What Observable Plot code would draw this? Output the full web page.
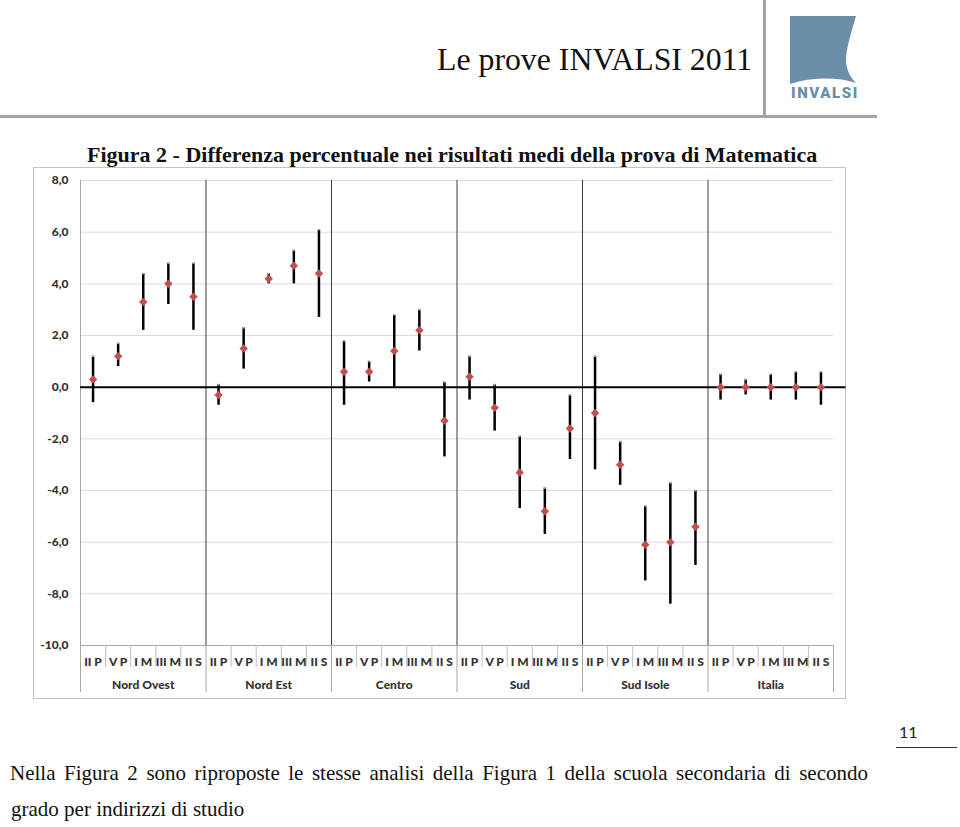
<!DOCTYPE html>
<html>
<head>
<meta charset="utf-8">
<script src="https://cdn.jsdelivr.net/npm/d3@7"></script>
<script src="https://cdn.jsdelivr.net/npm/@observablehq/plot@0.6"></script>
<style>
  html, body { margin: 0; padding: 0; background: #fff; }
  #page { position: relative; width: 960px; height: 827px; overflow: hidden; background: #fff; }
  .abs { position: absolute; white-space: nowrap; }
  #head { left: 437px; top: 44px; font-family: "Liberation Serif", serif; font-size: 31.8px; line-height: 1; color: #111; }
  #vline { left: 763px; top: 0; width: 3px; height: 118px; background: #a3a3a3; }
  #hline { left: 0; top: 115px; width: 877px; height: 3px; background: #a3a3a3; }
  #logotext { left: 791px; top: 86px; font-family: "Roboto", sans-serif; font-weight: 900; font-size: 15px; line-height: 1; letter-spacing: 1.6px; color: #6b8fa9; }
  #ftitle { left: 87px; top: 144px; font-family: "Liberation Serif", serif; font-weight: bold; font-size: 22px; line-height: 1; color: #111; }
  #box { left: 33px; top: 167px; width: 811px; height: 530px; border: 1.5px solid #c4c4c4; }
  #chart { left: 0; top: 167px; }
  #pnum { left: 899px; top: 724px; font-family: "Lato", sans-serif; font-size: 16px; line-height: 1; color: #222; }
  #pline { left: 896px; top: 747px; width: 61px; height: 1px; background: #333; }
  #p1 { left: 10px; top: 763px; width: 858px; font-family: "Liberation Serif", serif; font-size: 21px; line-height: 1; text-align: justify; text-align-last: justify; color: #111; white-space: nowrap; }
  #p2 { left: 11px; top: 799px; font-family: "Liberation Serif", serif; font-size: 21px; line-height: 1; color: #111; }
</style>
</head>
<body>
<div id="page">
  <div class="abs" id="head">Le prove INVALSI 2011</div>
  <div class="abs" id="vline"></div>
  <div class="abs" id="hline"></div>
  <svg class="abs" style="left:788px;top:14px" width="72" height="72" viewBox="788 14 72 72">
    <path d="M790,16 L856,16 C852,30 846,48 846,60 C846,70 851,78 856,83 C838,77 812,77 790,84 Z" fill="#6b8fa9"/>
  </svg>
  <div class="abs" id="logotext">INVALSI</div>
  <div class="abs" id="ftitle">Figura 2 - Differenza percentuale nei risultati medi della prova di Matematica</div>
  <div class="abs" id="box"></div>
  <div class="abs" id="chart"></div>
  <div class="abs" id="pnum">11</div>
  <div class="abs" id="pline"></div>
  <div class="abs" id="p1">Nella Figura 2 sono riproposte le stesse analisi della Figura 1 della scuola secondaria di secondo</div>
  <div class="abs" id="p2">grado per indirizzi di studio</div>
</div>
<script>
// ---- data ----
const groups = ["Nord Ovest", "Nord Est", "Centro", "Sud", "Sud Isole", "Italia"];
const levels = ["II P", "V P", "I M", "III M", "II S"];
// point estimates (per group, in level order)
const valNordOvest = [0.3, 1.2, 3.3, 4.0, 3.5];
const valNordEst   = [-0.3, 1.5, 4.2, 4.7, 4.4];
const valCentro    = [0.6, 0.6, 1.4, 2.2, -1.3];
const valSud       = [0.4, -0.8, -3.3, -4.8, -1.6];
const valSudIsole  = [-1.0, -3.0, -6.1, -6.0, -5.4];
const valItalia    = [0.0, 0.0, 0.0, 0.0, 0.0];
// lower bounds
const lowNordOvest = [-0.6, 0.8, 2.2, 3.2, 2.2];
const lowNordEst   = [-0.7, 0.7, 4.0, 4.0, 2.7];
const lowCentro    = [-0.7, 0.2, 0.0, 1.4, -2.7];
const lowSud       = [-0.5, -1.7, -4.7, -5.7, -2.8];
const lowSudIsole  = [-3.2, -3.8, -7.5, -8.4, -6.9];
const lowItalia    = [-0.5, -0.3, -0.5, -0.5, -0.7];
// upper bounds
const highNordOvest = [1.2, 1.7, 4.4, 4.8, 4.8];
const highNordEst   = [0.1, 2.3, 4.4, 5.3, 6.1];
const highCentro    = [1.8, 1.0, 2.8, 3.0, 0.2];
const highSud       = [1.2, 0.1, -1.9, -3.9, -0.3];
const highSudIsole  = [1.2, -2.1, -4.6, -3.7, -4.0];
const highItalia    = [0.5, 0.3, 0.5, 0.6, 0.6];
const yTicks = [8, 6, 4, 2, 0, -2, -4, -6, -8, -10];

// ---- build table ----
const vals = [valNordOvest, valNordEst, valCentro, valSud, valSudIsole, valItalia];
const lows = [lowNordOvest, lowNordEst, lowCentro, lowSud, lowSudIsole, lowItalia];
const highs = [highNordOvest, highNordEst, highCentro, highSud, highSudIsole, highItalia];
const data = [];
groups.forEach((g, gi) => levels.forEach((l, li) => {
  data.push({group: g, level: l, idx: gi * 5 + li, value: vals[gi][li], low: lows[gi][li], high: highs[gi][li]});
}));
const n = data.length;
const catIdx = data.map(d => d.idx);
const groupCenters = groups.map((g, gi) => gi * 5 + 2);
const groupBounds = d3.range(groups.length + 1).map(i => i * 5 - 0.5);
const innerBounds = groupBounds.slice(1, -1);
const catBounds = d3.range(n).map(i => i + 0.5).filter(b => !groupBounds.includes(b));
const fmt = d => d.toFixed(1).replace(".", ",");

const chart = Plot.plot({
  width: 960,
  height: 533,
  marginLeft: 80,
  marginRight: 127,
  marginTop: 13,
  marginBottom: 55,
  style: {fontFamily: "Lato, sans-serif", fontSize: "12px", background: "transparent", color: "#222", overflow: "visible"},
  x: {type: "linear", domain: [-0.5, n - 0.5], label: null},
  y: {domain: [-10, 8], label: null},
  marks: [
    Plot.ruleY(yTicks.filter(t => t !== 0 && t !== -10), {stroke: "#d6dce5", strokeWidth: 1}),
    Plot.ruleY([-10], {stroke: "#a8a8a8", strokeWidth: 1}),
    Plot.ruleX([-0.5], {stroke: "#a8a8a8", strokeWidth: 1}),
    Plot.ruleX(innerBounds, {stroke: "#3c3c3c", strokeWidth: 1}),
    Plot.axisY(yTicks, {tickSize: 0, tickPadding: 12, tickFormat: fmt, fontWeight: 900, fontSize: 12, fill: "#333", label: null}),
    Plot.axisX(catBounds, {anchor: "bottom", tickSize: 22, tickFormat: () => "", stroke: "#c0c0c0", label: null}),
    Plot.axisX(groupBounds, {anchor: "bottom", tickSize: 47, tickFormat: () => "", stroke: "#a8a8a8", label: null}),
    Plot.axisX(catIdx, {anchor: "bottom", tickSize: 0, tickPadding: 12, tickFormat: i => levels[i % levels.length], fontWeight: 900, fontSize: 12, fill: "#333", label: null}),
    Plot.axisX(groupCenters, {anchor: "bottom", tickSize: 0, tickPadding: 35, tickFormat: i => groups[(i - 2) / 5], fontWeight: 900, fontSize: 12, fill: "#333", label: null}),
    Plot.ruleY([0], {x1: -0.5, x2: n, stroke: "#000", strokeWidth: 2}),
    Plot.ruleX(data, {x: "idx", y1: "low", y2: "high", stroke: "#000", strokeWidth: 2.5}),
    Plot.dot(data, {x: "idx", y: "high", r: 1, fill: "#c9c28a", stroke: "none"}),
    Plot.dot(data, {x: "idx", y: "value", symbol: "diamond2", r: 3.8, fill: "#c0504d", stroke: "none"})
  ]
});
document.getElementById("chart").appendChild(chart);
</script>
</body>
</html>
